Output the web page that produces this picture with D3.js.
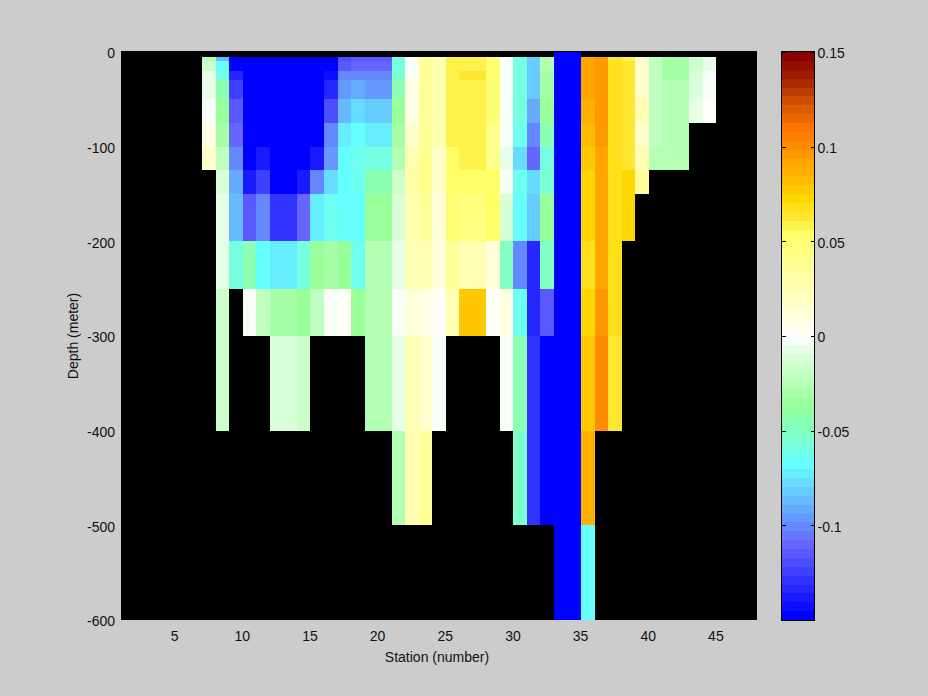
<!DOCTYPE html>
<html><head><meta charset="utf-8">
<script src="https://cdn.jsdelivr.net/npm/d3@7"></script>
<style>
html,body{margin:0;padding:0;background:#ccc;}
svg{display:block;}
text{font-family:"Liberation Sans",Arial,sans-serif;font-size:14px;fill:#111;}
</style></head><body>
<svg id="chart" width="928" height="696"></svg>
<script>
const depthEdges=[0,5,10,20,30,50,75,100,125,150,200,250,300,400,500,600];
const xTicks=[5,10,15,20,25,30,35,40,45];
const yTicks=[0,-100,-200,-300,-400,-500,-600];
const cTicks=[0.15,0.1,0.05,0,-0.05,-0.1];
const palette=["#0000ff","#0d0dff","#1a1aff","#2626ff","#3333ff","#4040ff","#4d4dff","#5959ff","#6666ff","#6677ff","#6688ff","#6699ff","#66aaff","#66bbff","#66ccff","#66ddff","#66eeff","#66ffff","#6dfff0","#75ffe0","#7cffd1","#84ffc2","#8bffb2","#92ffa3","#99ff99","#a6ffa6","#b3ffb3","#c0ffc0","#ccffcc","#d9ffd9","#e6ffe6","#f8fff8","#fffff8","#ffffe6","#ffffd9","#ffffcc","#ffffc0","#ffffb3","#ffffa6","#ffff99","#ffff8c","#ffff80","#ffff73","#ffff66","#fff24d","#ffe633","#ffe01a","#ffd700","#ffc800","#ffbb00","#ffb000","#ffa600","#ff9900","#ff8c00","#ff8000","#ff7400","#ec6800","#dc5c00","#cc4c00","#bc3c00","#ac2c00","#9c1c00","#920e00","#8b0000"];

// values per station, one entry per depth layer (from the surface down); missing layers are null or absent
const s7=[null,-.026,-.016,-.007,-.007,-.002,.007,.016];
const s8=[null,-.087,-.068,-.059,-.045,-.035,-.030,-.021,-.012,-.007,-.007,-.016,-.016];
const s9=[null,-.148,-.148,-.134,-.124,-.115,-.110,-.101,-.091,-.087,-.059];
const s10=[null,-.148,-.148,-.148,-.148,-.148,-.148,-.148,-.138,-.115,-.045,-.002];
const s11=[null,-.148,-.148,-.148,-.148,-.148,-.148,-.138,-.124,-.101,-.068,-.021];
const s12=[null,-.148,-.148,-.148,-.148,-.148,-.148,-.148,-.148,-.129,-.073,-.030,-.012];
const s13=[null,-.148,-.148,-.148,-.148,-.148,-.148,-.148,-.148,-.129,-.073,-.030,-.012];
const s14=[null,-.148,-.148,-.148,-.148,-.148,-.148,-.148,-.138,-.110,-.059,-.035,-.016];
const s15=[null,-.148,-.148,-.148,-.148,-.148,-.148,-.138,-.101,-.073,-.035,-.021];
const s16=[null,-.148,-.148,-.143,-.134,-.120,-.101,-.096,-.077,-.063,-.030,-.002];
const s17=[null,-.120,-.115,-.101,-.096,-.087,-.073,-.068,-.068,-.068,-.035,.002];
const s18=[null,-.115,-.110,-.101,-.091,-.077,-.068,-.063,-.063,-.068,-.063,-.035];
const s19=[null,-.115,-.110,-.101,-.096,-.082,-.073,-.059,-.045,-.035,-.026,-.026,-.026];
const s20=[null,-.115,-.110,-.101,-.096,-.082,-.073,-.059,-.045,-.035,-.026,-.026,-.026];
const s21=[null,-.059,-.059,-.054,-.045,-.035,-.030,-.026,-.016,-.012,-.007,-.002,-.007,-.026];
const s22=[null,-.002,-.002,.002,.007,.007,.016,.026,.030,.026,.026,.012,.026,.026];
const s23=[null,.035,.035,.035,.035,.035,.035,.040,.040,.035,.026,.007,.016,.035];
const s24=[null,.026,.026,.026,.026,.026,.026,.016,.016,.012,.012,.002,-.002];
const s25=[null,.059,.059,.059,.059,.059,.059,.054,.054,.049,.035,.026];
const s26=[null,.059,.059,.063,.059,.059,.059,.059,.054,.045,.026,.077];
const s27=[null,.059,.059,.063,.059,.059,.059,.059,.054,.045,.026,.077];
const s28=[null,.049,.049,.049,.049,.049,.040,.040,.054,.054,.012,.002];
const s29=[null,-.002,-.002,-.002,-.002,-.002,-.002,-.007,-.002,-.012,-.049,.007,-.002];
const s30=[null,-.059,-.059,-.059,-.059,-.059,-.063,-.077,-.063,-.068,-.101,-.063,-.045,-.054];
const s31=[null,-.082,-.082,-.082,-.082,-.091,-.101,-.110,-.077,-.082,-.134,-.134,-.129,-.129];
const s32=[null,-.026,-.026,-.030,-.030,-.035,-.045,-.059,-.054,-.035,-.049,-.115,-.148,-.148];
const s33=[-.148,-.148,-.148,-.148,-.148,-.148,-.148,-.148,-.148,-.148,-.148,-.148,-.148,-.148,-.148];
const s34=[-.148,-.148,-.148,-.148,-.148,-.148,-.148,-.148,-.148,-.148,-.148,-.148,-.148,-.148,-.148];
const s35=[null,.091,.091,.091,.091,.087,.082,.077,.073,.073,.068,.073,.077,.087,-.068];
const s36=[null,.096,.096,.096,.096,.096,.096,.091,.091,.091,.091,.096,.101];
const s37=[null,.063,.068,.068,.068,.068,.068,.068,.068,.068,.068,.068,.063];
const s38=[null,.059,.063,.063,.063,.063,.063,.063,.073,.073];
const s39=[null,.016,.016,.016,.016,.026,.016,.026,.035];
const s40=[null,-.021,-.021,-.021,-.021,-.021,-.021,-.026];
const s41=[null,-.030,-.030,-.030,-.026,-.026,-.026,-.026];
const s42=[null,-.030,-.030,-.030,-.026,-.026,-.026,-.026];
const s43=[null,-.016,-.016,-.012,-.012,-.007];
const s44=[null,-.007,-.007,-.002,-.002,.002];
const stations=[7,8,9,10,11,12,13,14,15,16,17,18,19,20,21,22,23,24,25,26,27,28,29,30,31,32,33,34,35,36,37,38,39,40,41,42,43,44];
const stationValues=[s7,s8,s9,s10,s11,s12,s13,s14,s15,s16,s17,s18,s19,s20,s21,s22,s23,s24,s25,s26,s27,s28,s29,s30,s31,s32,s33,s34,s35,s36,s37,s38,s39,s40,s41,s42,s43,s44];

const svg=d3.select("#chart");
const x=d3.scaleLinear().domain([1,48]).range([121,757]);
const y=d3.scaleLinear().domain([0,-600]).range([52,620]);
const color=d3.scaleQuantize().domain([-0.15,0.15]).range(palette);

svg.append("rect").attr("x",121).attr("y",51).attr("width",636).attr("height",569).attr("fill","#000");

const cells=[];
stations.forEach((s,i)=>{
  stationValues[i].forEach((v,r)=>{
    if(v!==null) cells.push({s,r,v});
  });
});
svg.append("g").attr("shape-rendering","crispEdges").selectAll("rect").data(cells).join("rect")
  .attr("x",d=>x(d.s))
  .attr("width",d=>x(d.s+1)-x(d.s))
  .attr("y",d=>y(-depthEdges[d.r]))
  .attr("height",d=>y(-depthEdges[d.r+1])-y(-depthEdges[d.r]))
  .attr("fill",d=>color(d.v));

const xAxis=d3.axisBottom(x).tickValues(xTicks).tickSize(0).tickPadding(11).tickFormat(String);
const gx=svg.append("g").attr("transform","translate(-1,620)").call(xAxis);
gx.select(".domain").remove();
const yAxis=d3.axisLeft(y).tickValues(yTicks).tickSize(0).tickPadding(6).tickFormat(String);
const gy=svg.append("g").attr("transform","translate(121,0)").call(yAxis);
gy.select(".domain").remove();
gy.selectAll("text").attr("dy","0.41em");

svg.append("text").attr("x",437).attr("y",662).attr("text-anchor","middle").text("Station (number)");
svg.append("text").attr("transform","translate(78,336) rotate(-90)").attr("text-anchor","middle").text("Depth (meter)");

// colour bar
const cbY=d3.scaleLinear().domain([-0.15,0.15]).range([620,52]);
const levels=palette.map((c,i)=>({c,lo:-0.15+i*0.3/palette.length,hi:-0.15+(i+1)*0.3/palette.length}));
svg.append("g").attr("shape-rendering","crispEdges").selectAll("rect").data(levels).join("rect")
  .attr("x",782).attr("width",32)
  .attr("y",d=>cbY(d.hi)).attr("height",d=>cbY(d.lo)-cbY(d.hi))
  .attr("fill",d=>d.c);
svg.append("rect").attr("x",781.5).attr("y",51.5).attr("width",33).attr("height",569)
  .attr("fill","none").attr("stroke","#000").attr("shape-rendering","crispEdges");
const cR=d3.axisRight(cbY).tickValues(cTicks).tickSize(-4).tickPadding(3).tickFormat(String);
const gc=svg.append("g").attr("transform","translate(814.5,0)").attr("shape-rendering","crispEdges").call(cR);
gc.select(".domain").remove();
gc.selectAll("text").attr("dy","0.41em");
const cL=d3.axisLeft(cbY).tickValues(cTicks).tickSize(-4).tickFormat("");
const gl=svg.append("g").attr("transform","translate(781.5,0)").attr("shape-rendering","crispEdges").call(cL);
gl.select(".domain").remove();
svg.selectAll("g").attr("font-size",null).attr("font-family",null);
</script>
</body></html>
